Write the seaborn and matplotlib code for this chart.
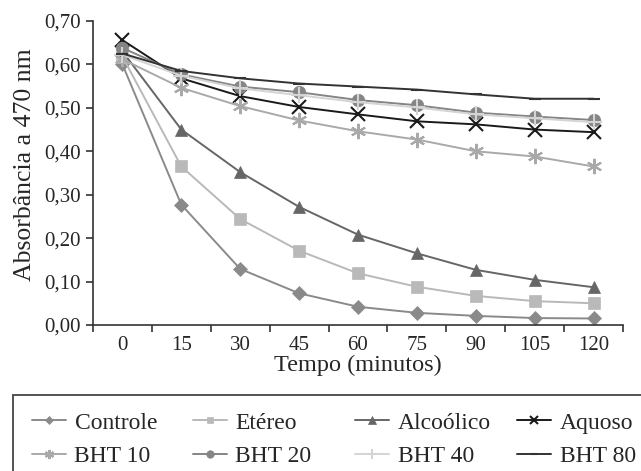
import matplotlib
matplotlib.use("Agg")
import matplotlib.pyplot as plt
import seaborn as sns
import pandas as pd
from matplotlib.ticker import FixedLocator, FuncFormatter
from matplotlib.patches import Rectangle

minutes = [0, 15, 30, 45, 60, 75, 90, 105, 120]

controle  = [0.600, 0.277, 0.129, 0.073, 0.042, 0.028, 0.021, 0.016, 0.015]
etereo    = [0.618, 0.365, 0.244, 0.171, 0.119, 0.088, 0.067, 0.055, 0.050]
alcoolico = [0.630, 0.450, 0.352, 0.272, 0.208, 0.165, 0.127, 0.104, 0.087]
aquoso    = [0.656, 0.568, 0.527, 0.502, 0.485, 0.469, 0.462, 0.450, 0.444]
bht10     = [0.612, 0.546, 0.504, 0.471, 0.446, 0.427, 0.400, 0.388, 0.365]
bht20     = [0.638, 0.577, 0.549, 0.536, 0.518, 0.506, 0.489, 0.480, 0.472]
bht40     = [0.622, 0.574, 0.545, 0.529, 0.513, 0.501, 0.485, 0.476, 0.467]
bht80     = [0.625, 0.585, 0.568, 0.556, 0.549, 0.542, 0.531, 0.521, 0.521]

series_names = ["Controle", "Etéreo", "Alcoólico", "Aquoso",
                "BHT 10", "BHT 20", "BHT 40", "BHT 80"]
series_vals = [controle, etereo, alcoolico, aquoso, bht10, bht20, bht40, bht80]

y_ticks = [0.0, 0.1, 0.2, 0.3, 0.4, 0.5, 0.6, 0.7]

rows = []
for name, vals in zip(series_names, series_vals):
    for m, v in zip(minutes, vals):
        rows.append({"Tempo": m, "Abs": v, "Série": name})
df = pd.DataFrame(rows)

colors = {"Controle": "#8a8a8a", "Etéreo": "#b9b9b9", "Alcoólico": "#666666",
          "Aquoso": "#1a1a1a", "BHT 10": "#a9a9a9", "BHT 20": "#858585",
          "BHT 40": "#d4d4d4", "BHT 80": "#333333"}
markers = {"Controle": "D", "Etéreo": "s", "Alcoólico": "^", "Aquoso": "x",
           "BHT 10": (6, 2, 0), "BHT 20": "o", "BHT 40": "+", "BHT 80": "_"}
msizes = {"Controle": 7, "Etéreo": 8, "Alcoólico": 9, "Aquoso": 10,
          "BHT 10": 11, "BHT 20": 9, "BHT 40": 11, "BHT 80": 8}
thin_markers = ("Aquoso", "BHT 10", "BHT 40", "BHT 80")

sns.set_style("white")
plt.rcParams["font.family"] = "serif"
plt.rcParams["font.serif"] = ["Liberation Serif", "DejaVu Serif", "Times New Roman"]

fig = plt.figure(figsize=(6.41, 4.71), dpi=100)
ax = fig.add_axes([93/641, 1-325/471, (623-93)/641, (325-21)/471])

for name in series_names:
    sub = df[df["Série"] == name]
    sns.lineplot(data=sub, x="Tempo", y="Abs", ax=ax, color=colors[name],
                 marker=markers[name], markersize=msizes[name],
                 markeredgewidth=1.5 if name in thin_markers else 0.5,
                 markeredgecolor=colors[name], linewidth=1.4, label=name)

ax.set_xlim(-7.5, 127.5)
ax.set_ylim(0, 0.70)
ax.xaxis.set_major_locator(FixedLocator(minutes))
ax.set_xticklabels([str(m) for m in minutes])
ax.xaxis.set_minor_locator(FixedLocator([m - 7.5 for m in minutes] + [127.5]))
ax.tick_params(axis="x", which="major", length=0, labelsize=15, pad=8)
ax.tick_params(axis="x", which="minor", length=5, width=1.2, color="#333333",
               direction="out", bottom=True)
ax.set_yticks(y_ticks)
ax.yaxis.set_major_formatter(FuncFormatter(lambda v, p: f"{v:.2f}".replace(".", ",")))
ax.tick_params(axis="y", length=5, width=1.2, color="#333333", direction="out",
               labelsize=15, left=True)
for s in ["top", "right"]:
    ax.spines[s].set_visible(False)
for s in ["left", "bottom"]:
    ax.spines[s].set_color("#333333")
    ax.spines[s].set_linewidth(1.2)
ax.set_xlabel("Tempo (minutos)", fontsize=17.5, labelpad=0)
ax.set_ylabel("Absorbância a 470 nm", fontsize=18.5)
ax.yaxis.set_label_coords(-0.108, 0.526)

handles, labels = ax.get_legend_handles_labels()
if ax.legend_:
    ax.legend_.remove()
hmap = dict(zip(labels, handles))

# legend frame
fig.patches.append(Rectangle((13/641, -0.05), 1.0, 1-395/471 + 0.05,
                             transform=fig.transFigure, fill=False,
                             edgecolor="#444444", linewidth=1.3))

col_x = [32, 193, 355, 517]
for i, x0 in enumerate(col_x):
    names = [series_names[i], series_names[i + 4]]
    fig.legend([hmap[n] for n in names], names, loc="upper left",
               bbox_to_anchor=(x0/641, 1-412/471), ncol=1, frameon=False,
               prop={"family": "serif", "size": 17}, markerscale=0.6,
               handlelength=1.45, handletextpad=0.35, borderpad=0,
               labelspacing=0.5, borderaxespad=0)

fig.savefig("out.png", dpi=100)
